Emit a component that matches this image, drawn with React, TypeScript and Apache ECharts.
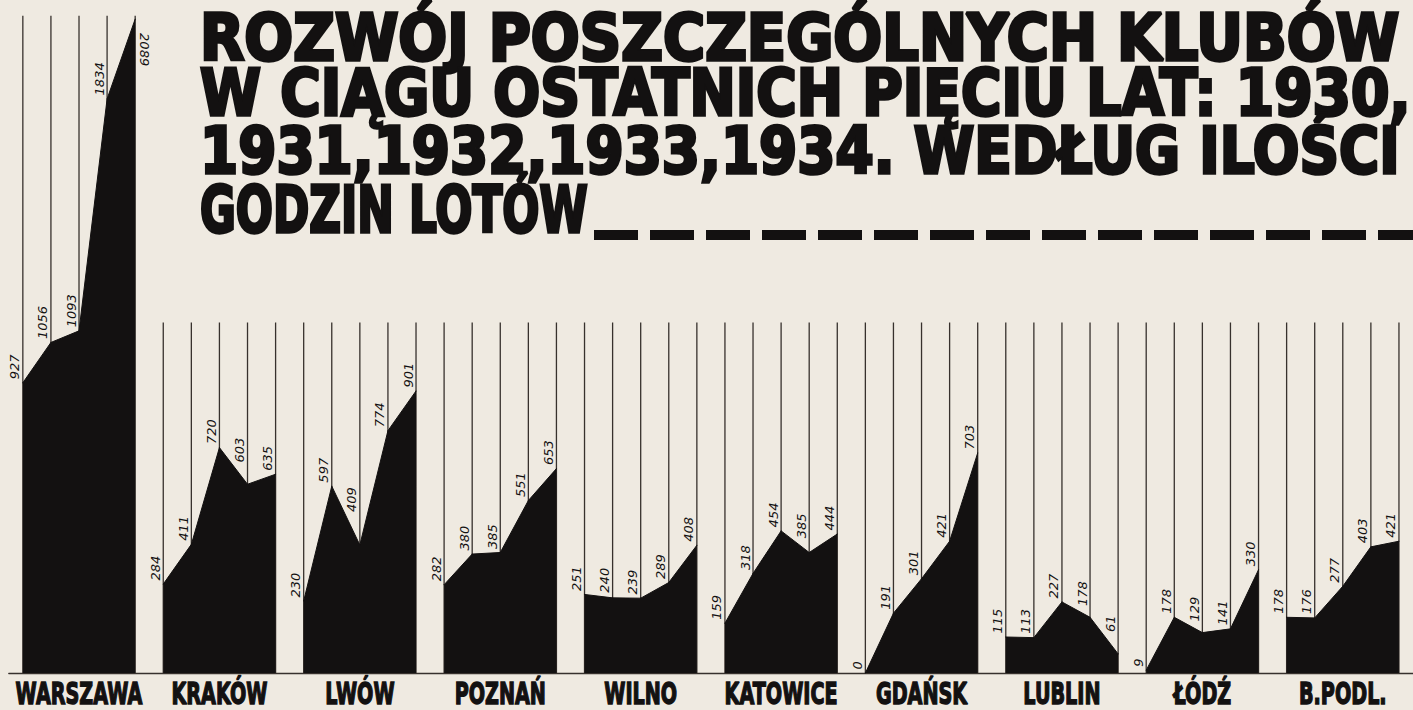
import React, { useEffect, useRef } from "react";
import * as echarts from "echarts";

// ---- data ----
const clubs = ["WARSZAWA", "KRAKÓW", "LWÓW", "POZNAŃ", "WILNO", "KATOWICE", "GDAŃSK", "LUBLIN", "ŁÓDŹ", "B.PODL."];
const years = ["1930", "1931", "1932", "1933", "1934"];
const warszawa = [927, 1056, 1093, 1834, 2089];
const krakow = [284, 411, 720, 603, 635];
const lwow = [230, 597, 409, 774, 901];
const poznan = [282, 380, 385, 551, 653];
const wilno = [251, 240, 239, 289, 408];
const katowice = [159, 318, 454, 385, 444];
const gdansk = [0, 191, 301, 421, 703];
const lublin = [115, 113, 227, 178, 61];
const lodz = [9, 178, 129, 141, 330];
const bpodl = [178, 176, 277, 403, 421];
const clubValues = [warszawa, krakow, lwow, poznan, wilno, katowice, gdansk, lublin, lodz, bpodl];

const titleLines = [
  "ROZWÓJ POSZCZEGÓLNYCH KLUBÓW",
  "W CIĄGU OSTATNICH PIĘCIU LAT: 1930,",
  "1931,1932,1933,1934. WEDŁUG ILOŚCI",
  "GODZIN LOTÓW",
];

// ---- style ----
const BG = "#efeae1";
const INK = "#131111";
const RULE = "#37312d";
const HEAVY = "'DejaVu Sans', 'Liberation Sans', sans-serif";
const HAND = "'DejaVu Sans', 'Noto Sans', sans-serif";
const Y_MAX = 2150;
const PLOT_H = 673;
const GUIDE_TOP_FIRST = 2100;
const GUIDE_TOP = 1120;

function measure(text: string, font: string): number {
  const ctx = document.createElement("canvas").getContext("2d");
  if (!ctx) return 1;
  ctx.font = font;
  return ctx.measureText(text).width || 1;
}

export default function App() {
  const ref = useRef<HTMLDivElement>(null);

  useEffect(() => {
    if (!ref.current) return;
    const chart = echarts.init(ref.current, null, { renderer: "svg" });
    const per = years.length;
    const pxPerUnit = PLOT_H / Y_MAX;

    const guides: number[][] = [];
    clubValues.forEach((vals, ci) => {
      vals.forEach((_, j) => guides.push([ci * per + j, ci === 0 ? GUIDE_TOP_FIRST : GUIDE_TOP]));
    });

    const areaSeries = clubValues.map((vals, ci) => ({
      type: "line",
      name: clubs[ci],
      z: 3,
      data: vals.map((v, j) => {
        const item: any = { value: [ci * per + j, v] };
        if (ci === 0 && j === per - 1) {
          item.label = { position: "right", rotate: -90, align: "left", verticalAlign: "bottom", distance: 2, offset: [14, 0] };
        } else if (j > 0 && vals[j - 1] > v) {
          // lift the label clear of a falling edge
          item.label = { distance: 3 + (vals[j - 1] - v) * pxPerUnit * 0.5 };
        }
        return item;
      }),
      symbol: "circle",
      symbolSize: 1,
      showSymbol: true,
      itemStyle: { color: INK },
      lineStyle: { color: INK, width: 1 },
      areaStyle: { color: INK, opacity: 1 },
      label: {
        show: true,
        position: "top",
        distance: 3,
        rotate: 90,
        align: "left",
        verticalAlign: "bottom",
        offset: [0, -1.5],
        fontFamily: HAND,
        fontStyle: "italic",
        fontSize: 13,
        color: INK,
        formatter: (p: any) => String(p.value[1]),
      },
      emphasis: { disabled: true },
    }));

    const guideSeries = {
      type: "custom",
      z: 1,
      silent: true,
      data: guides,
      encode: { x: 0, y: 1 },
      renderItem: (_params: any, api: any) => {
        const p0 = api.coord([api.value(0), 0]);
        const p1 = api.coord([api.value(0), api.value(1)]);
        return {
          type: "line",
          shape: { x1: p0[0], y1: p0[1], x2: p1[0], y2: p1[1] },
          style: { stroke: RULE, lineWidth: 1.3 },
        };
      },
    };

    const titleFont = `bold 64px ${HEAVY}`;
    const titleTargets = [
      { x: 200, y: 38, w: 1200 },
      { x: 200, y: 93, w: 1210 },
      { x: 200, y: 151, w: 1200 },
      { x: 200, y: 210, w: 388 },
    ];
    const titleGraphics = titleLines.map((t, i) => ({
      type: "text",
      x: titleTargets[i].x,
      y: titleTargets[i].y,
      scaleX: titleTargets[i].w / measure(t, titleFont),
      style: {
        text: t,
        font: titleFont,
        fill: INK,
        stroke: INK,
        lineWidth: 3.5,
        textAlign: "left",
        textVerticalAlign: "middle",
      },
    }));

    chart.setOption({
      animation: false,
      backgroundColor: BG,
      grid: { left: 8.8, top: 0, width: 1420, height: PLOT_H, containLabel: false },
      xAxis: {
        type: "value",
        min: -0.5,
        max: 49.5,
        axisLine: { show: true, onZero: true, lineStyle: { color: RULE, width: 1.3 } },
        axisTick: { show: false },
        axisLabel: { show: false },
        splitLine: { show: false },
      },
      yAxis: { type: "value", min: 0, max: Y_MAX, show: false },
      series: [guideSeries, ...areaSeries],
    });

    const clubFont = `bold 30px ${HEAVY}`;
    const clubGraphics = clubs.map((c, ci) => {
      const cx = chart.convertToPixel({ xAxisIndex: 0 }, ci * per + (per - 1) / 2) as number;
      return {
        type: "text",
        x: cx,
        y: 694,
        scaleX: 0.64,
        style: {
          text: c,
          font: clubFont,
          fill: INK,
          stroke: INK,
          lineWidth: 1.5,
          textAlign: "center",
          textVerticalAlign: "middle",
        },
      };
    });

    chart.setOption({
      graphic: [
        ...titleGraphics,
        {
          type: "line",
          shape: { x1: 594, y1: 235, x2: 1420, y2: 235 },
          style: { stroke: INK, lineWidth: 10, lineDash: [44, 12] },
        },
        ...clubGraphics,
      ],
    });

    return () => chart.dispose();
  }, []);

  return (
    <div
      ref={ref}
      style={{ position: "fixed", left: 0, top: 0, width: 1413, height: 710, background: BG }}
    />
  );
}
